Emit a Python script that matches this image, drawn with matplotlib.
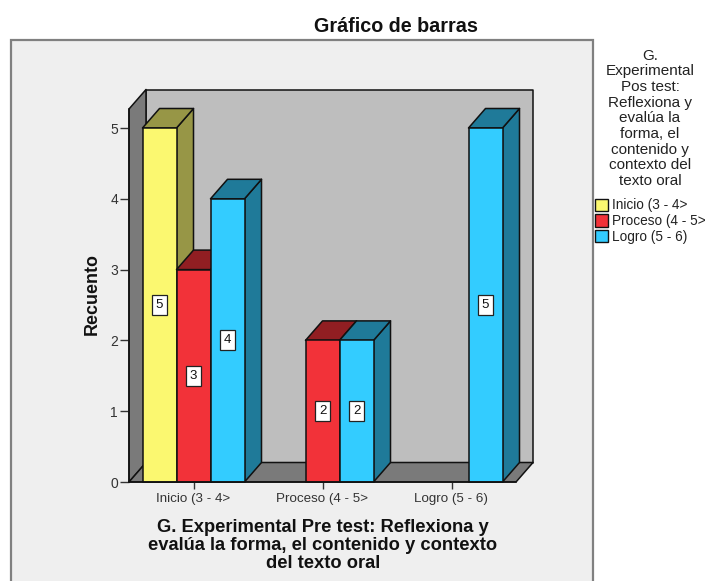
import matplotlib
matplotlib.use("Agg")
import matplotlib.pyplot as plt
from matplotlib.patches import Polygon, Rectangle, Patch

categories = ["Inicio (3 - 4>", "Proceso (4 - 5>", "Logro (5 - 6)"]
series_names = ["Inicio (3 - 4>", "Proceso (4 - 5>", "Logro (5 - 6)"]
inicio_counts = [5, 0, 0]
proceso_counts = [3, 2, 0]
logro_counts = [4, 2, 5]
y_ticks = [0, 1, 2, 3, 4, 5]

front_colors = ["#FBF870", "#F23239", "#33CCFF"]
side_colors = ["#979646", "#911E22", "#1F7A99"]
WALL, DARK_WALL, PANEL = "#BEBEBE", "#7A7A7A", "#EFEFEF"
EDGE = "#111111"
LW = 1.1

W, H = 706, 581
plt.rcParams["font.family"] = "Liberation Sans"
fig = plt.figure(figsize=(W / 100, H / 100), dpi=100, facecolor="white")

# outer panel
fig.add_artist(Rectangle((11 / W, -0.02), 582 / W, 1.02 - 39.5 / H, transform=fig.transFigure,
                         facecolor=PANEL, edgecolor="#808080", linewidth=1.6, zorder=-1))

px_left, px_right, px_y0, px_top = 129, 516, 482, 109
ax = fig.add_axes([px_left / W, 1 - px_y0 / H, (px_right - px_left) / W, (px_y0 - px_top) / H])
ax.set_xlim(0, 3)
ax.set_ylim(0, (px_y0 - px_top) / 70.8)
ax.patch.set_visible(False)

dx, dy = 17 / 129, 19.5 / 70.8   # depth offset
ymax = ax.get_ylim()[1]

def poly(pts, fc, z):
    ax.add_patch(Polygon(pts, closed=True, facecolor=fc, edgecolor=EDGE, linewidth=LW,
                         clip_on=False, zorder=z, joinstyle="round"))

poly([(dx, dy), (3 + dx, dy), (3 + dx, ymax + dy), (dx, ymax + dy)], WALL, 1)
poly([(0, 0), (dx, dy), (dx, ymax + dy), (0, ymax)], DARK_WALL, 1.1)
poly([(0, 0), (3, 0), (3 + dx, dy), (dx, dy)], DARK_WALL, 1.1)

bar_w = 34 / 129
z = 2.0
all_counts = [inicio_counts, proceso_counts, logro_counts]
for c in range(len(categories)):
    for s, counts in enumerate(all_counts):
        v = counts[c]
        if v == 0:
            continue
        x0 = c + 0.5 + (s - 1.5) * bar_w
        x1 = x0 + bar_w
        poly([(x1, 0), (x1 + dx, dy), (x1 + dx, v + dy), (x1, v)], side_colors[s], z)
        poly([(x0, v), (x1, v), (x1 + dx, v + dy), (x0 + dx, v + dy)], side_colors[s], z)
        ax.bar(x0 + bar_w / 2, v, bar_w, color=front_colors[s], edgecolor=EDGE, linewidth=LW,
               zorder=z + 0.1, clip_on=False)
        ax.text(x0 + bar_w / 2, v / 2, str(v), ha="center", va="center", fontsize=9.5, color="#111111",
                zorder=z + 0.2,
                bbox=dict(boxstyle="square,pad=0.3", facecolor="white", edgecolor="#222222", linewidth=0.9))
        z += 0.5

ax.set_xticks([i + 0.5 for i in range(3)], categories)
ax.set_yticks(y_ticks)
ax.tick_params(axis="x", length=5, width=1, color="#333333", labelcolor="#333333", labelsize=9.6, pad=3)
ax.tick_params(axis="y", length=6.5, width=1, color="#333333", labelcolor="#333333", labelsize=10, pad=1.5)
for k in ("top", "right"):
    ax.spines[k].set_visible(False)
for k in ("left", "bottom"):
    ax.spines[k].set_linewidth(LW)
    ax.spines[k].set_color(EDGE)
    ax.spines[k].set_zorder(10)

ax.set_xlabel("G. Experimental Pre test: Reflexiona y\nevalúa la forma, el contenido y contexto\ndel texto oral",
              fontsize=13.2, fontweight="bold", color="#111111", labelpad=10, linespacing=1.06,
              x=(323 - px_left) / (px_right - px_left))
ax.set_ylabel("Recuento", fontsize=12.9, fontweight="bold", color="#111111")
ax.yaxis.set_label_coords((101 - px_left) / (px_right - px_left), 0.505)

fig.text(396 / W, 1 - 26 / H, "Gráfico de barras", ha="center", va="center", fontsize=14.2,
         fontweight="bold", color="#111111")

handles = [Patch(facecolor=c, edgecolor=EDGE, linewidth=1) for c in front_colors]
leg = fig.legend(handles, series_names, loc="upper left", bbox_to_anchor=(592 / W, 1 - 46 / H),
                 frameon=False, fontsize=9.8, labelcolor="#222222", alignment="center",
                 title="G.\nExperimental\nPos test:\nReflexiona y\nevalúa la\nforma, el\ncontenido y\ncontexto del\ntexto oral",
                 title_fontsize=11, handlelength=1.0, handleheight=1.0, handletextpad=0.25,
                 labelspacing=0.13, borderpad=0.2, borderaxespad=0)
leg.get_title().set_linespacing(1.15)
leg.get_title().set_color("#222222")
leg.get_title().set_multialignment("center")
leg._legend_box.sep = 7.5

fig.savefig("out.png", dpi=100)
